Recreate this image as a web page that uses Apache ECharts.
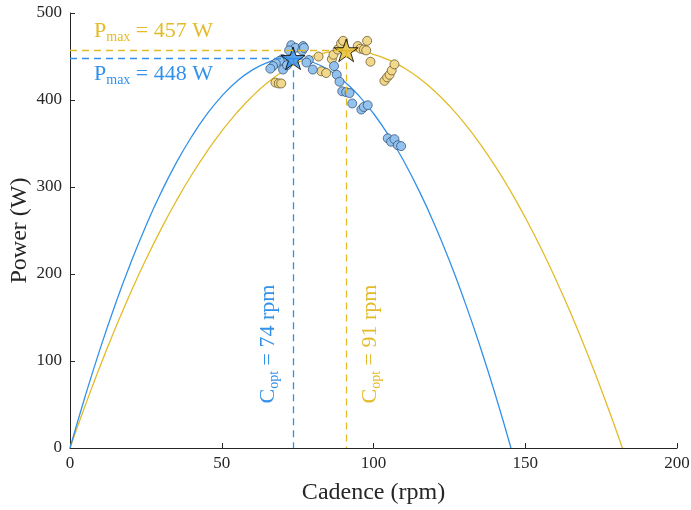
<!DOCTYPE html>
<html>
<head>
<meta charset="utf-8">
<script src="https://cdn.jsdelivr.net/npm/echarts@6/dist/echarts.min.js"></script>
<style>html,body{margin:0;padding:0;background:#fff}#c{width:691px;height:510px}</style>
</head>
<body>
<div id="c"></div>
<script>
// ---- data ----
const xTicks = [0, 50, 100, 150, 200];
const yTicks = [0, 100, 200, 300, 400, 500];

const blueFitC = [0,5,10,15,20,25,30,35,40,45,50,55,60,65,70,75,80,85,90,95,100,105,110,115,120,125,130,135,140,145.3];
const blueFitP = [0,59.5,114.8,165.9,212.7,255.3,293.6,327.7,357.5,383.1,404.5,421.6,434.4,443.0,447.4,447.5,443.4,435.1,422.5,405.6,384.5,359.2,329.6,295.8,257.7,215.4,168.8,118.0,63.0,0];

const yellowFitC = [0,5,10,15,20,25,30,35,40,45,50,55,60,65,70,75,80,85,90,95,100,105,110,115,120,125,130,135,140,145,150,155,160,165,170,175,180,182];
const yellowFitP = [0,48.8,94.9,138.2,178.8,216.6,251.6,283.9,313.5,340.2,364.2,385.5,404.0,419.7,432.7,442.9,450.3,455.0,456.9,456.1,452.5,446.2,437.1,425.2,410.6,393.2,373.1,350.2,324.5,296.1,264.9,231.0,194.3,154.8,112.6,67.6,19.9,0];

const blueObsC = [72.9,74.3,76.8,76.5,72.2,77.1,70.0,69.1,67.8,66.9,66.0,70.2,71.5,78.7,77.9,80.0,87.0,87.9,88.8,89.7,91.0,92.1,93.0,96.0,96.8,98.1,104.7,105.8,106.9,108.0,109.1];
const blueObsP = [463,460,462,457,457,460,447,445,442,439,436,435,440,446,443,435,439,429,421,410,409,408,396,389,392,394,356,352,355,348,347];

const yellowObsC = [67.7,68.8,69.6,81.9,82.8,84.4,86.3,86.8,88.2,89.3,90.0,94.8,95.7,96.8,97.6,97.9,99.0,103.6,104.5,105.3,106.0,106.9];
const yellowObsP = [420,419,419,450,433,431,447,452,458,465,468,462,459,458,457,468,444,422,426,429,434,441];

const blueCopt = 73.5, bluePmax = 448;
const yellowCopt = 91, yellowPmax = 457;
const blueLabels = ['448', '74'];
const yellowLabels = ['457', '91'];

// ---- styles ----
const BLUE = '#3391ea', BLUE_FILL = '#93c2ef', BLUE_STAR = '#2f8be6';
const YEL = '#e3bb28', YEL_FILL = '#f2d88c', YEL_STAR = '#e2b92a';
const FONT = 'Liberation Serif';
const STAR = 'path://M50,0 L61.8,35.1 L98.9,35.1 L68.9,56.7 L80.3,91.9 L50,70 L19.7,91.9 L31.1,56.7 L1.1,35.1 L38.2,35.1 Z';

const zip = (a, b) => a.map((v, i) => [v, b[i]]);

function dashed(color, copt, pmax) {
  return {
    silent: true, symbol: 'none', animation: false,
    lineStyle: { color: color, type: [7, 5], width: 1.3, opacity: 1 },
    label: { show: false },
    emphasis: { disabled: true },
    data: [
      [{ coord: [0, pmax] }, { coord: [copt, pmax] }],
      [{ coord: [copt, pmax] }, { coord: [copt, 0] }]
    ]
  };
}

const chart = echarts.init(document.getElementById('c'), null, { renderer: 'canvas' });

const richBase = (color) => ({
  m: { fontFamily: FONT, fontSize: 22, fill: color, color: color },
  s: { fontFamily: FONT, fontSize: 14, fill: color, color: color, padding: [12, 0, 0, 0] }
});

chart.setOption({
  animation: false,
  backgroundColor: '#ffffff',
  grid: { left: 70, right: 14, top: 13, bottom: 62, containLabel: false, outerBoundsMode: 'none' },
  xAxis: {
    type: 'value', min: xTicks[0], max: xTicks[xTicks.length - 1], interval: 50,
    name: 'Cadence (rpm)', nameLocation: 'middle', nameGap: 33, nameMoveOverlap: false,
    nameTextStyle: { fontFamily: FONT, fontSize: 24, color: '#262626' },
    axisLine: { lineStyle: { color: '#262626', width: 1 } },
    axisTick: { inside: true, length: 5, lineStyle: { color: '#262626' } },
    axisLabel: { fontFamily: FONT, fontSize: 17, color: '#262626', margin: 7 },
    splitLine: { show: false }
  },
  yAxis: {
    type: 'value', min: yTicks[0], max: yTicks[yTicks.length - 1], interval: 100,
    name: 'Power (W)', nameLocation: 'middle', nameGap: 38, nameMoveOverlap: false,
    nameTextStyle: { fontFamily: FONT, fontSize: 24, color: '#262626' },
    axisLine: { show: true, lineStyle: { color: '#262626', width: 1 } },
    axisTick: { show: true, inside: true, length: 5, lineStyle: { color: '#262626' } },
    axisLabel: { fontFamily: FONT, fontSize: 17, color: '#262626', margin: 8 },
    splitLine: { show: false }
  },
  series: [
    { type: 'line', data: zip(yellowFitC, yellowFitP), showSymbol: false, smooth: true,
      lineStyle: { color: YEL, width: 1.3 }, z: 2, markLine: dashed(YEL, yellowCopt, yellowPmax) },
    { type: 'line', data: zip(blueFitC, blueFitP), showSymbol: false, smooth: true,
      lineStyle: { color: BLUE, width: 1.3 }, z: 2, markLine: dashed(BLUE, blueCopt, bluePmax) },
    { type: 'scatter', data: zip(yellowObsC, yellowObsP), symbolSize: 9, z: 3,
      itemStyle: { color: YEL_FILL, borderColor: '#5a4a20', borderWidth: 0.7, opacity: 1 } },
    { type: 'scatter', data: zip(blueObsC, blueObsP), symbolSize: 9, z: 3,
      itemStyle: { color: BLUE_FILL, borderColor: '#2a4668', borderWidth: 0.7, opacity: 1 } },
    { type: 'scatter', data: [[blueCopt, bluePmax]], symbol: STAR, symbolSize: 24, symbolKeepAspect: true, z: 4,
      itemStyle: { color: BLUE_STAR, borderColor: '#000', borderWidth: 1 } },
    { type: 'scatter', data: [[yellowCopt, yellowPmax]], symbol: STAR, symbolSize: 24, symbolKeepAspect: true, z: 4,
      itemStyle: { color: YEL_STAR, borderColor: '#000', borderWidth: 1 } }
  ],
  graphic: [
    { type: 'text', left: 94, top: 20, silent: true,
      style: { text: '{m|P}{s|max}{m| = ' + yellowLabels[0] + ' W}', rich: richBase(YEL), fill: YEL } },
    { type: 'text', left: 94, top: 63, silent: true,
      style: { text: '{m|P}{s|max}{m| = ' + blueLabels[0] + ' W}', rich: richBase(BLUE), fill: BLUE } },
    { type: 'text', x: 268, y: 344, rotation: Math.PI / 2, silent: true,
      style: { text: '{m|C}{s|opt}{m| = ' + blueLabels[1] + ' rpm}', rich: richBase(BLUE), fill: BLUE, align: 'center', verticalAlign: 'middle' } },
    { type: 'text', x: 370, y: 344, rotation: Math.PI / 2, silent: true,
      style: { text: '{m|C}{s|opt}{m| = ' + yellowLabels[1] + ' rpm}', rich: richBase(YEL), fill: YEL, align: 'center', verticalAlign: 'middle' } }
  ]
});
</script>
</body>
</html>
